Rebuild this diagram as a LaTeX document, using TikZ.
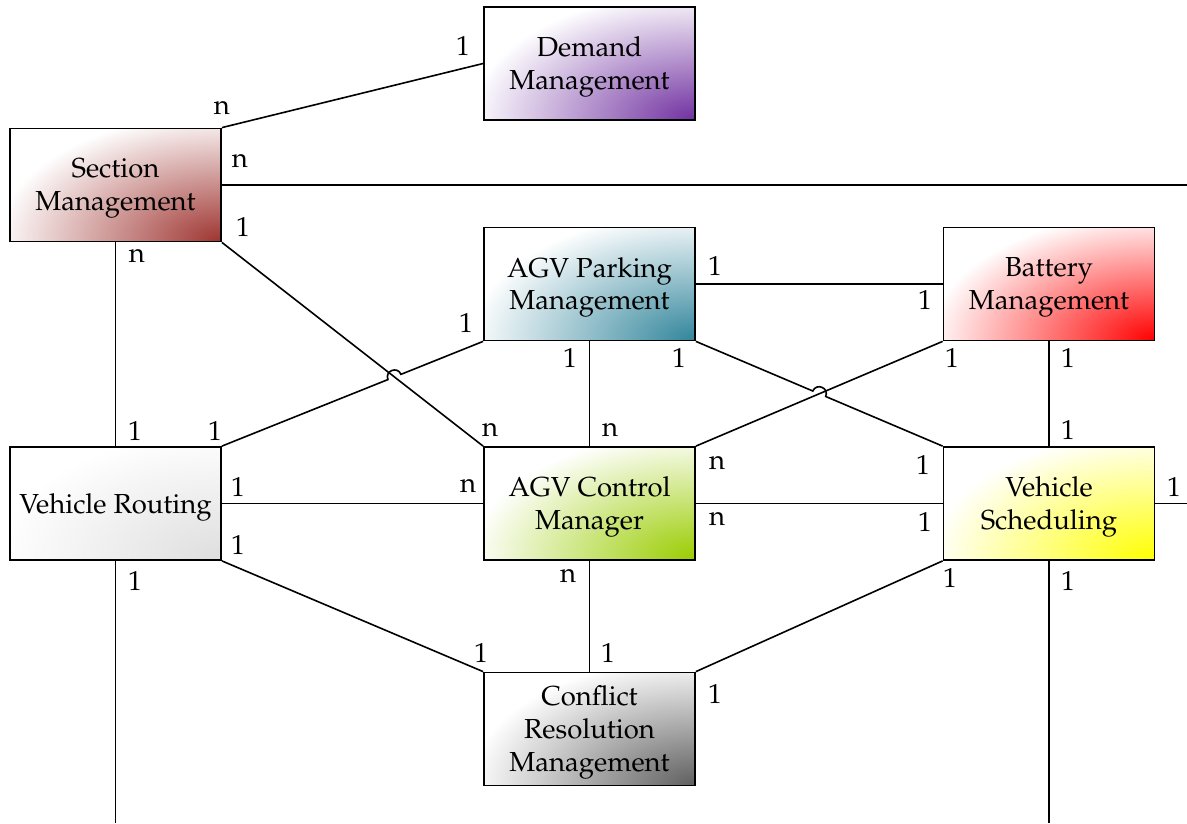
\documentclass[tikz,border=0pt]{standalone}
\usepackage[T1]{fontenc}
\usepackage{mathpazo}
\usetikzlibrary{calc}

\definecolor{secC}{RGB}{158,52,48}
\definecolor{demC}{RGB}{112,48,160}
\definecolor{parkC}{RGB}{49,133,155}
\definecolor{batC}{RGB}{255,0,0}
\definecolor{vrC}{RGB}{222,222,222}
\definecolor{ctlC}{RGB}{153,204,0}
\definecolor{vsC}{RGB}{255,255,0}
\definecolor{crmC}{RGB}{95,95,95}

\newcommand{\entfont}{\fontsize{27.5}{32.8}\selectfont}

\tikzset{
  ent/.style={draw, line width=1.8pt, minimum width=211pt, minimum height=113pt,
    inner sep=0pt,
    path picture={\shade[inner color=#1, outer color=white]
      (path picture bounding box.south east) ellipse [x radius=225pt, y radius=128pt];}},
  txt/.style={align=center, inner sep=0pt, font=\entfont},
  conn/.style={line width=1.6pt},
  card/.style={font=\entfont, inner sep=0pt},
}

\begin{document}
\begin{tikzpicture}[x=1pt, y=-1pt]
\useasboundingbox (0,0) rectangle (1187,823);

% entity boxes
\node[ent=secC]  (sec)  at (115.5,185)   {};
\node[ent=demC]  (dem)  at (589.5,63.5)  {};
\node[ent=parkC] (park) at (589.5,284)   {};
\node[ent=batC]  (bat)  at (1049,284)    {};
\node[ent=vrC]   (vr)   at (115.5,503.5) {};
\node[ent=ctlC]  (ctl)  at (589.5,503.5) {};
\node[ent=vsC]   (vs)   at (1049,503.5)  {};
\node[ent=crmC]  (crm)  at (589.5,729)   {};

% entity names, set a little below the box centre
\node[txt] (secT)  at ($(sec)+(0,3.5)$)  {Section\\Management};
\node[txt] (demT)  at ($(dem)+(0,3.5)$)  {Demand\\Management};
\node[txt] (parkT) at ($(park)+(0,3.5)$) {AGV Parking\\Management};
\node[txt] (batT)  at ($(bat)+(0,3.5)$)  {Battery\\Management};
\node[txt] (vrT)   at ($(vr)+(0,3.5)$)   {Vehicle Routing};
\node[txt] (ctlT)  at ($(ctl)+(0,3.5)$)  {AGV Control\\Manager};
\node[txt] (vsT)   at ($(vs)+(0,3.5)$)   {Vehicle\\Scheduling};
\node[txt] (crmT)  at ($(crm)+(0,3.5)$)  {Conflict\\Resolution\\Management};

% loose ends running off the sheet
\coordinate (e1) at (1187,185);
\coordinate (e2) at (1187,503.5);
\coordinate (e3) at (115.5,823);
\coordinate (e4) at (1049,823);

% relations
\draw[conn] (sec.north east) -- (dem.west);
\draw[conn] (sec.east) -- (e1);
\draw[conn] (sec.south east) -- (ctl.north west);
\draw[conn] (sec.south) -- (vr.north);
\draw[conn] (vr.east) -- (ctl.west);
\draw[conn] (vr.south east) -- (crm.north west);
\draw[conn] (vr.south) -- (e3);
\draw[conn] (park.east) -- (bat.west);
\draw[conn] (park.south) -- (ctl.north);
\draw[conn] (ctl.north east) -- (bat.south west);
\draw[conn] (ctl.east) -- (vs.west);
\draw[conn] (ctl.south) -- (crm.north);
\draw[conn] (crm.north east) -- (vs.south west);
\draw[conn] (bat.south) -- (vs.north);
\draw[conn] (vs.east) -- (e2);
\draw[conn] (vs.south) -- (e4);

% relations with a line jump over a crossing line
\coordinate (j1) at (intersection of vr.north east--park.south west and sec.south east--ctl.north west);
\draw[conn] (vr.north east) -- ($(j1)!7pt!(vr.north east)$)
  to[bend left=90, looseness=1.7] ($(j1)!7pt!(park.south west)$) -- (park.south west);
\coordinate (j2) at (intersection of park.south east--vs.north west and ctl.north east--bat.south west);
\draw[conn] (park.south east) -- ($(j2)!7pt!(park.south east)$)
  to[bend left=90, looseness=1.7] ($(j2)!7pt!(vs.north west)$) -- (vs.north west);

% cardinalities
\node[card] (c1)  at (463,46)    {1};
\node[card] (c2)  at (222,108)   {n};
\node[card] (c3)  at (240,161)   {n};
\node[card] (c4)  at (243,227)   {1};
\node[card] (c5)  at (137,256)   {n};
\node[card] (c6)  at (135,431)   {1};
\node[card] (c7)  at (215,431)   {1};
\node[card] (c8)  at (466,323)   {1};
\node[card] (c9)  at (715,266)   {1};
\node[card] (c10) at (925,300)   {1};
\node[card] (c11) at (570,358)   {1};
\node[card] (c12) at (679,358)   {1};
\node[card] (c13) at (952,358)   {1};
\node[card] (c14) at (1068,358)  {1};
\node[card] (c15) at (490,430)   {n};
\node[card] (c16) at (610,430)   {n};
\node[card] (c17) at (1068,430)  {1};
\node[card] (c18) at (717,463)   {n};
\node[card] (c19) at (923,465)   {1};
\node[card] (c20) at (238,487)   {1};
\node[card] (c21) at (468,486)   {n};
\node[card] (c22) at (717,519)   {n};
\node[card] (c23) at (925,522)   {1};
\node[card] (c24) at (1174,487)  {1};
\node[card] (c25) at (238,545)   {1};
\node[card] (c26) at (135,581)   {1};
\node[card] (c27) at (568,576)   {n};
\node[card] (c28) at (950,578)   {1};
\node[card] (c29) at (1068,581)  {1};
\node[card] (c30) at (481,653)   {1};
\node[card] (c31) at (608,653)   {1};
\node[card] (c32) at (715,694)   {1};
\end{tikzpicture}
\end{document}
